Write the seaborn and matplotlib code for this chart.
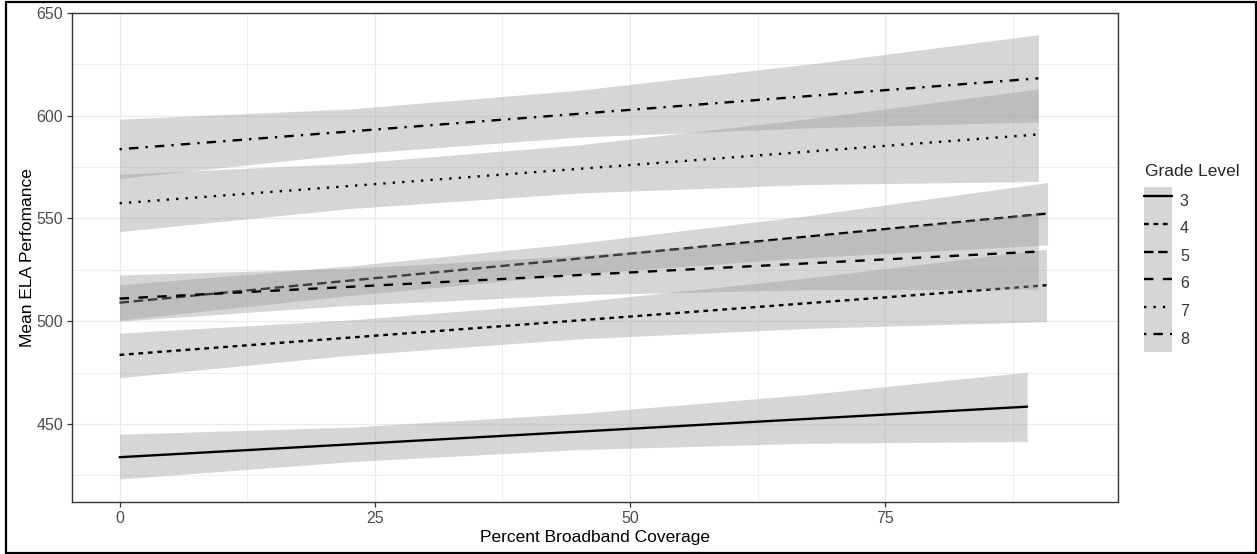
"""ELA performance vs broadband coverage by grade level, with confidence bands."""
import matplotlib
matplotlib.use('Agg')
import matplotlib.pyplot as plt
import seaborn as sns
import pandas as pd
from matplotlib.patches import Patch, Rectangle
from matplotlib.lines import Line2D
from matplotlib.legend_handler import HandlerTuple
from matplotlib.ticker import MultipleLocator

sns.set_theme(style='white')
plt.rcParams['font.family'] = ['Liberation Sans', 'DejaVu Sans']

grades = ['3', '4', '5', '6', '7', '8']
x_end = [88.9, 90.8, 90.9, 90.0, 90.0, 90.0]
fit_start = [433.8, 483.6, 509.0, 511.0, 557.4, 583.7]
fit_end = [458.4, 517.5, 552.4, 533.9, 590.9, 618.2]

# band edges read at x = 0, 22.5, 45, 67.5 and at each line's last x
band_x = [0, 22.5, 45, 67.5]
lo_3 = [423.2, 431.6, 437.5, 440.6, 441.4]
hi_3 = [445.0, 448.4, 455.1, 464.4, 475.2]
lo_4 = [472.5, 483.4, 491.4, 496.5, 499.8]
hi_4 = [494.2, 500.6, 509.4, 521.1, 535.0]
lo_5 = [500.5, 512.5, 523.0, 531.0, 537.1]
hi_5 = [517.7, 526.9, 538.0, 551.4, 567.5]
lo_6 = [500.0, 507.7, 512.9, 515.3, 515.6]
hi_6 = [522.5, 525.7, 531.9, 541.1, 552.6]
lo_7 = [543.6, 554.8, 562.4, 566.5, 568.0]
hi_7 = [571.5, 576.8, 585.8, 598.5, 613.0]
lo_8 = [569.5, 581.3, 589.6, 594.1, 597.0]
hi_8 = [598.3, 603.3, 612.4, 625.1, 639.4]
lows = [lo_3, lo_4, lo_5, lo_6, lo_7, lo_8]
highs = [hi_3, hi_4, hi_5, hi_6, hi_7, hi_8]

# ggplot default linetypes: solid, 22, 42, 44, 13, 1343
linetypes = ['-', (0, (2, 2)), (0, (4, 2)), (0, (4, 4)), (0, (1, 3)), (0, (1, 3, 4, 3))]

W, H = 1257, 554
fig = plt.figure(figsize=(W / 100, H / 100), dpi=100)
ax = fig.add_axes([72 / W, 1 - 502 / H, (1118 - 72) / W, (502 - 13) / H])

band = '#999999'
lw = 1.7
for i, g in enumerate(grades):
    xb = band_x + [x_end[i]]
    ax.fill_between(xb, lows[i], highs[i], color=band, alpha=0.4, lw=0, zorder=2 + 2 * i)
    df = pd.DataFrame({'x': [0, x_end[i]], 'y': [fit_start[i], fit_end[i]]})
    sns.lineplot(data=df, x='x', y='y', color='black', lw=lw, ax=ax,
                 linestyle=linetypes[i], errorbar=None, zorder=3 + 2 * i)

ax.set_xlim(-4.66, 97.8)
ax.set_ylim(412, 650)
ax.xaxis.set_major_locator(MultipleLocator(25))
ax.xaxis.set_minor_locator(MultipleLocator(12.5))
ax.yaxis.set_major_locator(MultipleLocator(50))
ax.yaxis.set_minor_locator(MultipleLocator(25))
ax.grid(which='major', color='#EBEBEB', lw=1.0)
ax.grid(which='minor', color='#EBEBEB', lw=0.6)
ax.set_axisbelow(True)
for s in ax.spines.values():
    s.set_color('#333333')
    s.set_linewidth(1.0)
ax.tick_params(which='major', length=3.5, width=0.9, color='#333333',
               labelcolor='#4D4D4D', labelsize=11.5, pad=3, left=True, bottom=True)
ax.tick_params(which='minor', length=0)

ax.set_xlabel('Percent Broadband Coverage', fontsize=12.5, color='black', labelpad=3)
ax.set_ylabel('Mean ELA Perfomance', fontsize=12.5, color='black', labelpad=1)

# legend: keys are the grey band with the line drawn over it
handles = [(Patch(facecolor=band, alpha=0.4, lw=0),
            Line2D([], [], color='black', lw=lw, linestyle=ls)) for ls in linetypes]
leg = fig.legend(handles, grades, loc='upper left',
                 bbox_to_anchor=(1136 / W, 1 - 179 / H), frameon=False,
                 handler_map={tuple: HandlerTuple()}, fontsize=11.5,
                 handlelength=1.75, handleheight=2.28, labelspacing=0,
                 handletextpad=0.5, borderpad=0)
for t in leg.get_texts():
    t.set_color('#333333')
fig.text(1145 / W, 1 - 172 / H, 'Grade Level', fontsize=12.5, ha='left', va='center')

# screenshot frame
fig.add_artist(Rectangle((6 / W, 1 / H), 1250 / W, 551 / H, transform=fig.transFigure,
                         fill=False, ec='black', lw=1.6))

fig.savefig('out.png', dpi=100)
